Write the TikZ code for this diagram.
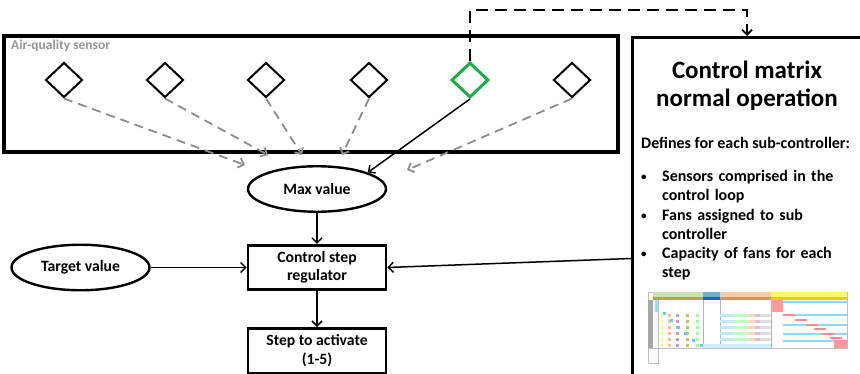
\documentclass[tikz,border=0pt]{standalone}
\usepackage{fontspec}
\setmainfont{Carlito}
\usetikzlibrary{shapes.geometric,arrows.meta,positioning}
\definecolor{sensorgreen}{RGB}{34,170,72}
\definecolor{dashgray}{RGB}{140,140,140}
\definecolor{labelgray}{RGB}{150,150,150}
\definecolor{xlgreen}{RGB}{200,228,180}
\definecolor{xlblue}{RGB}{110,175,215}
\definecolor{xlorange}{RGB}{250,205,165}
\definecolor{xlyellow}{RGB}{252,248,110}

\begin{document}
\begin{tikzpicture}[
    x=1pt, y=1pt,
    sensor/.style={diamond, draw, line width=2pt, minimum width=37pt, minimum height=35pt, inner sep=0pt},
    oval/.style={ellipse, draw, line width=2.4pt, minimum width=138pt, minimum height=45.5pt, font=\fontsize{15.7}{18.5}\selectfont\bfseries},
    box/.style={rectangle, draw, line width=2.6pt, minimum width=138pt, minimum height=44.5pt, align=center, font=\fontsize{15.7}{18.5}\selectfont\bfseries},
    arrow/.style={-{Straight Barb[length=5pt,width=10pt]}, line width=1.5pt},
    grayarrow/.style={arrow, dashgray, line width=1.8pt, dash pattern=on 9pt off 6pt},
    looparrow/.style={arrow, line width=1.8pt, dash pattern=on 12pt off 7pt},
    itemtext/.style={anchor=base west, inner sep=0pt, text width=200pt, align=left, font=\fontsize{16}{19.5}\selectfont\bfseries}
]
    \useasboundingbox (0,0) rectangle (860,373);
    \clip (0,0) rectangle (860,373);

    % sensor group
    \draw[line width=3.5pt] (4,221) rectangle (618,337);
    \node[anchor=west, inner sep=0pt, text=labelgray, font=\fontsize{13.5}{15}\selectfont\bfseries] (grouplabel) at (11,327) {Air-quality sensor};
    \foreach \i/\x in {1/64, 2/165, 3/266, 4/369, 6/572}
        \node[sensor] (s\i) at (\x,293) {};
    \node[sensor, draw=sensorgreen, line width=3pt] (s5) at (470,293) {};

    % control chain
    \node[oval] (maxval) at (317,184) {Max value};
    \node[box, below=31pt of maxval] (regulator) {Control step\\regulator};
    \node[box, below=36pt of regulator] (stepact) {Step to activate\\(1-5)};
    \node[oval, left=96pt of regulator] (target) {Target value};

    % control matrix
    \node[rectangle, draw, line width=3pt, anchor=north west, minimum width=300pt, minimum height=400pt] (ctrlmat) at (631,337) {};
    \node[align=center, font=\fontsize{25}{28}\selectfont\bfseries] (title) at (747,287) {Control matrix\\normal operation};
    \node[anchor=west, inner sep=0pt, font=\fontsize{16}{19.5}\selectfont\bfseries] (defines) at (641,230) {Defines for each sub-controller:};
    \foreach \n/\y/\txt in {1/192/{Sensors comprised in the\\control loop}, 2/153/{Fans assigned to sub\\controller}, 3/115/{Capacity of fans for each\\step}} {
        \node[anchor=base west, inner sep=0pt, font=\fontsize{11}{13}\selectfont\bfseries] (bullet\n) at (641,\y+1) {\textbullet};
        \node[itemtext] (item\n) at (662,\y) {\txt};
    }

    % spreadsheet thumbnail
    \begin{scope}[shift={(648,81)}, yscale=-1]
        \fill[white] (0,0) rectangle (199,56);
        \draw[gray!50, line width=0.5pt, fill=gray!5] (0,0) rectangle (10,71);
        \draw[gray!50, line width=0.5pt] (0,0) rectangle (199,56);
        \fill[xlgreen] (5,0) rectangle (55,5);
        \fill[xlblue] (55,0) rectangle (72,5);
        \fill[xlorange] (72,0) rectangle (123,5);
        \fill[xlyellow] (123,0) rectangle (199,5);
        \fill[olive!70] (5,5) rectangle (55,8);
        \fill[blue!60!cyan] (55,5) rectangle (72,8);
        \fill[brown!80] (72,5) rectangle (123,8);
        \fill[yellow!70!olive] (123,5) rectangle (199,8);
        \fill[gray!70] (0,8) rectangle (5,56);
        \fill[cyan!40] (7,8) rectangle (10,20);
        \draw[gray!60, line width=0.4pt] (55,8) -- (55,56) (72,8) -- (72,56) (123,8) -- (123,56);
        \foreach \v in {22,28,34,40,46,52} {
            \fill[yellow!60] (13,\v) rectangle (15,\v+2.5);
            \fill[orange!50] (20,\v) rectangle (23,\v+2.5);
            \fill[violet!40] (28,\v) rectangle (31,\v+2.5);
            \fill[olive!50] (38,\v) rectangle (41,\v+2.5);
            \fill[green!40] (48,\v) rectangle (51,\v+2.5);
            \fill[cyan!25] (72,\v) rectangle (86,\v+2.5);
            \fill[green!25] (86,\v) rectangle (100,\v+2.5);
            \fill[orange!30] (100,\v) rectangle (107,\v+2.5);
            \fill[violet!25] (107,\v) rectangle (112,\v+2.5);
            \fill[gray!25] (112,\v) rectangle (123,\v+2.5);
        }
        \foreach \u/\v in {15/20, 22/27, 29/34, 36/40, 44/47, 52/52}
            \fill[cyan!60] (\u,\v) rectangle (\u+3,\v+3);
        \fill[cyan!20] (55,52) rectangle (123,56);
        \fill[red!40] (123,8) rectangle (135,20);
        \foreach \v in {9,22,32,41,48}
            \fill[cyan!45] (135,\v) rectangle (199,\v+1.5);
        \foreach \u/\v in {135/22, 147/27, 158/32, 166/36, 174/41, 182/45}
            \fill[red!45] (\u,\v) rectangle (\u+12,\v+2);
        \fill[red!40] (186,48) rectangle (199,56);
    \end{scope}

    % sensor connectors
    \coordinate (m1) at (245,208);
    \coordinate (m2) at (268,218);
    \coordinate (m3) at (302,218);
    \coordinate (m4) at (342,218);
    \coordinate (m6) at (407,203);
    \foreach \i in {1,2,3,4,6}
        \draw[grayarrow] (s\i.south) -- (m\i);
    \draw[arrow] (s5.south) -- (maxval.18);
    \coordinate (corner) at (747,363);
    \draw[looparrow] (s5.north) |- (corner) -- (corner |- ctrlmat.north);

    % chain arrows
    \draw[arrow] (maxval) -- (regulator);
    \draw[arrow] (regulator) -- (stepact);
    \draw[arrow] (target) -- (regulator);
    \draw[arrow] ([yshift=9pt]ctrlmat.west |- regulator) -- (regulator.east);
\end{tikzpicture}
\end{document}
